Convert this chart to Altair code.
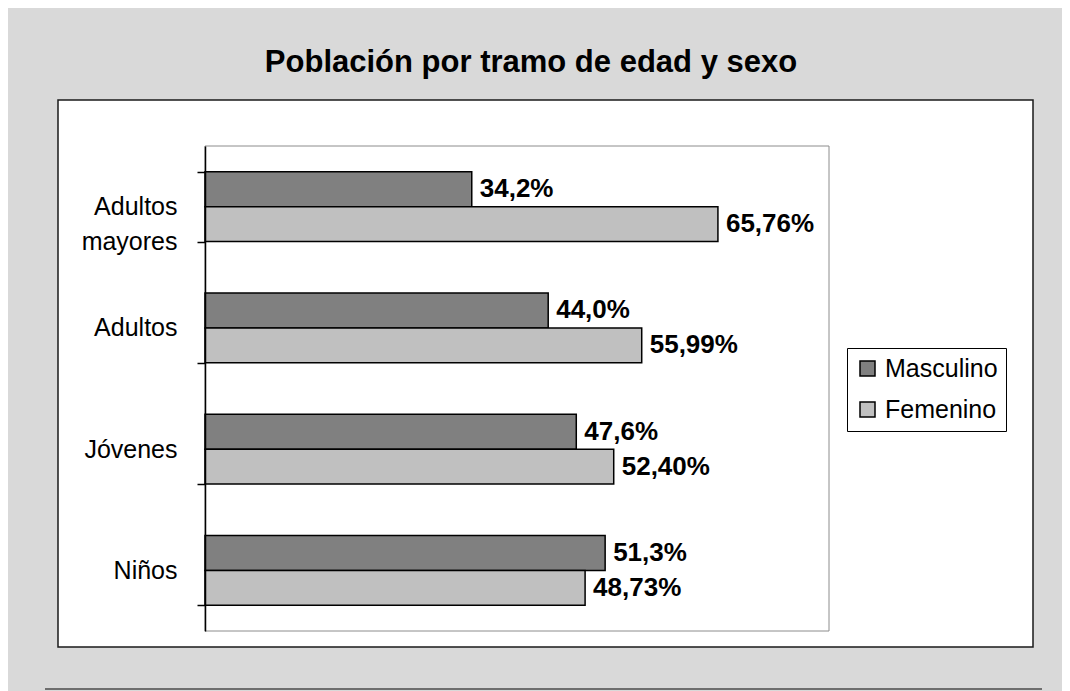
import altair as alt
import pandas as pd

categories = ["Adultos mayores", "Adultos", "Jóvenes", "Niños"]
sexes = ["Masculino", "Femenino"]
masculino = [34.2, 44.0, 47.6, 51.3]
femenino = [65.76, 55.99, 52.40, 48.73]
label_m = ["34,2%", "44,0%", "47,6%", "51,3%"]
label_f = ["65,76%", "55,99%", "52,40%", "48,73%"]
colors = ["#808080", "#c0c0c0"]

rows = []
for c, m, f, lm, lf in zip(categories, masculino, femenino, label_m, label_f):
    rows.append({"tramo": c, "sexo": sexes[0], "valor": m, "etiqueta": lm})
    rows.append({"tramo": c, "sexo": sexes[1], "valor": f, "etiqueta": lf})
df = pd.DataFrame(rows)
one = pd.DataFrame({"k": [0]})

W, H = 624, 485
FONT = "Liberation Sans"

x_enc = alt.X("valor:Q", scale=alt.Scale(domain=[0, 80], nice=False, zero=True), axis=None)
y_enc = alt.Y(
    "tramo:N",
    sort=categories,
    scale=alt.Scale(paddingInner=0.423, paddingOuter=0.2115),
    axis=alt.Axis(
        title=None, tickBand="extent", tickSize=8, tickWidth=1.5, tickColor="black",
        domainColor="black", domainWidth=1.5, labelFont=FONT, labelFontSize=25,
        labelColor="black", labelPadding=20, labelLineHeight=35,
        labelExpr="split(datum.label, ' ')", zindex=1, grid=False,
    ),
)
yoff = alt.YOffset("sexo:N", sort=sexes, scale=alt.Scale(paddingInner=0, paddingOuter=0))
color = alt.Color(
    "sexo:N",
    sort=sexes,
    scale=alt.Scale(domain=sexes, range=colors),
    legend=alt.Legend(
        title=None, orient="none", legendX=642, legendY=202, padding=8,
        strokeColor="black", fillColor="white", cornerRadius=0,
        symbolType="square", symbolSize=225, symbolStrokeColor="black",
        symbolStrokeWidth=1.5, symbolOpacity=1, labelFont=FONT, labelFontSize=25,
        labelColor="black", labelOffset=5, rowPadding=15,
    ),
)

box = alt.Chart(one).mark_rect(fill="white", stroke="#1a1a1a", strokeWidth=1.5).encode(
    x=alt.value(-147), x2=alt.value(828), y=alt.value(-46), y2=alt.value(501)
)
border = alt.Chart(one).mark_rect(filled=False, stroke="#8c8c8c", strokeWidth=1).encode(
    x=alt.value(0), x2=alt.value(W), y=alt.value(0), y2=alt.value(H)
)
rule = alt.Chart(one).mark_rule(color="#6e6e6e", strokeWidth=2).encode(
    x=alt.value(-160), x2=alt.value(837), y=alt.value(543)
)

bars = alt.Chart(df).mark_bar(stroke="black", strokeWidth=1.5, opacity=1).encode(
    x=x_enc, y=y_enc, yOffset=yoff, color=color
)
text = alt.Chart(df).mark_text(
    align="left", baseline="middle", dx=8, font=FONT, fontSize=26,
    fontWeight="bold", color="black"
).encode(x=x_enc, y=y_enc, yOffset=yoff, text="etiqueta:N")

chart = alt.layer(box, border, rule, bars, text).properties(
    width=W,
    height=H,
    title=alt.Title(
        "Población por tramo de edad y sexo", font=FONT, fontSize=31,
        fontWeight="bold", color="black", anchor="middle", frame="group",
        dx=14, dy=5, offset=1, baseline="alphabetic",
    ),
    autosize=alt.AutoSizeParams(type="none"),
    padding={"left": 197, "top": 138, "right": 233, "bottom": 60},
).configure(background="#d9d9d9").configure_view(strokeWidth=0)

chart.save("out.html", embed_options={"renderer": "svg", "actions": False})
